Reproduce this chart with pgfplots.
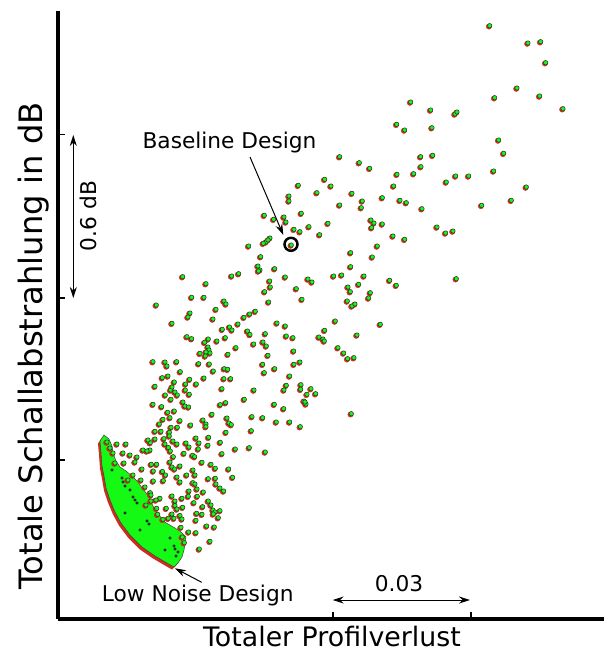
\documentclass[border=0pt]{standalone}
\usepackage{pgfplots}
\pgfplotsset{compat=1.18}
\usepackage{pgfplotstable}
\usepackage{fontspec}
\setmainfont{DejaVu Sans}
\usetikzlibrary{arrows.meta}
\definecolor{ptgreen}{RGB}{20,250,20}
\definecolor{ptred}{RGB}{205,45,30}

\pgfplotstableread{
x y
489.7 25.7
528 43
540.7 41.7
545.7 62.7
517 88
494.7 97.7
539.7 96
563 108.7
410.7 102
430.7 110
455 114
457 112
404.7 130
432 127.7
498.7 140
503.7 153.3
420.7 156.7
432.7 155.3
421 166.7
413.7 173.7
446.3 182
455.7 176
468.7 176
493.7 171
526.3 187
511.3 200.3
400 200.3
406.3 202.7
422 208.7
481.7 205.3
437 227
445.7 233
453 231
404.7 239.3
456.3 278.7
396.7 124.3
339.7 156.7
359.3 162.7
369.7 168.3
397 174.3
324.7 179.3
298.3 185.3
331 186
317 192.7
352 193.3
393.7 186
289 196
289 201
362.3 201
382.3 197.7
339.7 205
361.3 207.7
301.3 213.3
264.3 215.3
273.7 219.3
284 217
286 222
328 223.3
309 226.7
371 220
374 223
382.3 224
371.7 227.7
294 229.3
300 231.7
319.7 234.7
291.3 245
266 242
270 238
268 240
263.3 243.3
393 236
377.3 246
350.7 252.7
372.3 257
260.7 256.7
350.7 266.7
274.7 268.7
260 270
285.3 277
333.7 276
341.7 275
364 276
308 279
312 282
389.7 280.3
396.3 285.3
269.7 281
270.3 287
264.7 291.7
296.3 288.7
348 287
358.7 284.3
350.3 291.7
370.3 292.7
368.7 298
302 299.3
268.7 302
347.3 301
352 306
355 304
335.3 321
380.3 324.3
277 323
285.3 326
265.3 333.7
324.7 330.3
319 337
323 339
324.3 341
286.3 336
293 337.7
357 335
263 342
266.3 346
293.7 351
268 355.3
338 347.7
343.7 353
347.7 358.7
354 357.7
262.7 364.3
274.7 368.7
294 364.3
300 362
264.3 372.7
289.7 376
286.3 385.3
301 384.7
284 390
300.7 389.3
311 388.7
315.7 393.7
307 394.3
304 401
306 404
305 402
274.3 404.3
283.7 408.7
351.3 413.7
262.7 417.7
276.3 422
289.7 422
300.3 426.7
248.7 246
258 266
258.5 271
182.7 276.7
231.7 276
238.7 273.7
206 283.7
191.7 297.3
204 297.3
224 301
226 304
156.3 305
188 317
190 313
216 309.3
213 319
172 323.3
244 317.3
249.7 314
255.3 311.3
238 324
229.5 327
232 330
222.3 329.3
247.5 331
250 334.5
187 336.7
191.7 338.7
208.3 339
225.3 337.7
217 341
204.7 342.3
236 347.7
253.7 344
208 347
209 350
210 353
206 352
200 353.3
205.3 356
228 354.3
153 361.7
165 362
167 366
176.7 361.7
198.7 363.7
209.3 364
180.3 371.7
224.3 368.7
227.7 369.3
213.3 371
162.3 377.7
168 376
189.7 379.3
204 378
224 378.7
230.7 378.7
174.3 382
185.7 384
196.3 384
155 386.3
170.7 390
172 387
175 392
177.3 395
185.3 390
189.3 394.3
222 388.7
254 390
165.3 395
171 399.3
183 402
185 406
188.7 407
220.3 404.7
225.7 402.7
244.3 399.3
153 404.3
161.7 406.7
167.7 412.3
174.3 411
170 417.7
180 420.7
190.7 425
159.3 424
163 419.3
203 420
206 424
206 426.7
212 414.3
227 418
229 423
231.3 424.7
252 416.7
171 427.3
177.3 427.3
226 432.3
251.3 430.7
155 431.3
161 431.3
169.3 432.3
169.3 436
208.7 437.3
155 439
164 438.7
150.3 442.7
173 441
177 444
186 443
189 447
196 438
199 443
198.3 449
208 445.3
220.3 442.3
165 444
168.5 447.5
150 450
170.3 451
184 453.3
192.7 455.3
194.7 456.7
222 453.7
235.3 449
249.3 447.7
265.3 452
173.3 456.7
170 462
172 467
174.7 469
151.3 464.3
156.7 464.3
180 466
202 462.3
211 464.3
215.3 468.3
228.7 469
153.3 471
162.5 471.5
165.5 475
193 470
195 475
153.3 481
163.3 480.7
177 477
180 482
186.7 475
193 482.7
208.3 478.7
215.3 478.3
232.7 477.3
216 484
220 488
223.7 491
195 484
197 489
189 491
203.3 492
150.3 492.7
172 496
175 501
182 498.3
188.3 496.3
197.3 496.3
160 498.3
151 501
208.3 501
194 502.7
156.7 508.3
166.3 508.3
175 505.5
177 509
182.7 507.3
202.7 506.7
211 505
213 510
215 512
220 510.7
157.7 514.3
172 514
180 515.5
182 519
196.7 513.3
202 514.3
213.3 514
218.3 517.7
163 519.3
168.3 518.3
174 518.3
196 520.3
181 527.3
188.7 532
196 532.7
206.7 526
214.3 527
182.3 537
184.3 542.7
210 541.3
199.3 549
148 440
117 444
126 444
143 450
147 451
113 453
123 453
130 455
115 463
124 463
135 462
142 469
133 475
128 480
146 505
141 480
145 487
137 457
110 448
107 442
151 495
156 500
}\pts

\pgfplotstableread{
x y
104 435
100 441
101 452
102 466
104 476
106 488
110 500
115 512
121 523
130 535
142 547
155 556
167 563
174 567
178 563
182 557
184 550
185 543
186 537
181 532
175 528
168 524
163 521
160 516
156 512
153 506
150 500
147 494
142 488
138 482
132 476
126 471
120 467
116 461
113 453
112 446
109 439
}\blob

\pgfplotstableread{
x y
122 478
123 482
125 486
133 497
135 500
137 503
147 521
149 524
112 470
125 513
174 546
175 549
176 556
140 530
165 550
130 490
170 538
178 552
}\specks

\begin{document}
\begin{tikzpicture}
\begin{axis}[
  at={(0,0)}, anchor=south west,
  scale only axis, width=546pt, height=608pt,
  xmin=58, xmax=604, ymin=11, ymax=619, y dir=reverse,
  axis lines=left,
  axis line style={line width=3.2pt, -},
  xtick={332.7,471}, ytick={134.5,298,460},
  xticklabels={}, yticklabels={},
  tick align=inside, major tick length=7pt,
  tick style={line width=1.6pt, black},
  clip=false,
]
\addplot[fill=ptred, draw=none, xshift=-2pt, yshift=-2.5pt] table {\blob} -- cycle;
\addplot[fill=ptgreen, draw=black!75, line width=0.5pt] table {\blob} -- cycle;
\addplot[only marks, mark=*, mark size=2.7pt, color=ptred,
  mark options={fill=ptred, draw=ptred, xshift=-0.8pt, yshift=-0.8pt}] table {\pts};
\addplot[only marks, mark=*, mark size=2.2pt,
  mark options={fill=ptgreen, draw=black!80, line width=0.55pt}] table {\pts};
\addplot[only marks, mark=*, mark size=1.4pt, color=black!85] table {\specks};

\draw[line width=2.5pt] (axis cs:291,244.3) circle[radius=6.5pt];
\draw[line width=1pt, -{Stealth[length=11pt,width=7pt]}] (axis cs:250,157) -- (axis cs:283.3,235);
\draw[line width=1pt, -{Stealth[length=11pt,width=7pt]}] (axis cs:201.7,582.3) -- (axis cs:175,568.3);
\draw[line width=1pt, {Stealth[length=11pt,width=7pt]}-{Stealth[length=11pt,width=7pt]}] (axis cs:73.3,298) -- (axis cs:73.3,135);
\draw[line width=1pt, {Stealth[length=11pt,width=7pt]}-{Stealth[length=11pt,width=7pt]}] (axis cs:332.7,600) -- (axis cs:470,600);

\node[anchor=base, inner sep=0pt, font=\fontsize{21.7}{26}\selectfont] at (axis cs:229.5,148.3) {Baseline Design};
\node[anchor=base west, inner sep=0pt, font=\fontsize{21.7}{26}\selectfont] at (axis cs:101.7,601.7) {Low Noise Design};
\node[anchor=base, inner sep=0pt, font=\fontsize{21.7}{26}\selectfont] at (axis cs:399,591.7) {0.03};
\node[anchor=base, rotate=90, inner sep=0pt, font=\fontsize{21.7}{26}\selectfont] at (axis cs:97,216) {0.6 dB};
\node[anchor=base, inner sep=0pt, font=\fontsize{26.8}{31}\selectfont] at (axis cs:332,646) {Totaler Profilverlust};
\node[anchor=base, rotate=90, inner sep=0pt, font=\fontsize{32.2}{37}\selectfont] at (axis cs:42.5,346) {Totale Schallabstrahlung in dB};
\end{axis}
\pgfresetboundingbox
\path[use as bounding box] (-58pt,-35pt) rectangle (546pt,619pt);
\end{tikzpicture}
\end{document}
